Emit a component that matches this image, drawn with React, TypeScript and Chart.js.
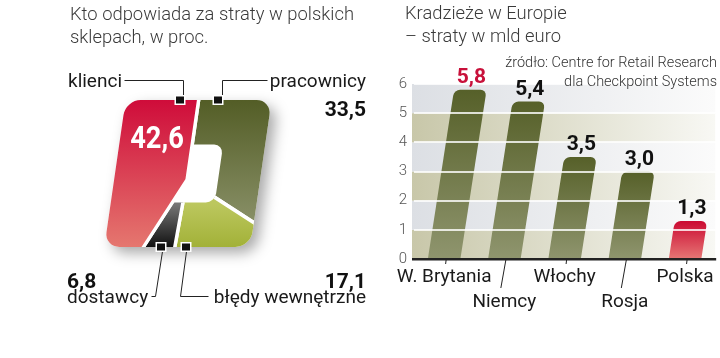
import React, { useEffect, useRef } from "react";
import { Chart, registerables } from "chart.js";

Chart.register(...registerables);

// ---------------- data ----------------
const shareLabels = ["pracownicy", "błędy wewnętrzne", "dostawcy", "klienci"];
const shareValues = [33.5, 17.1, 6.8, 42.6];

const countryLabels = ["W. Brytania", "Niemcy", "Włochy", "Rosja", "Polska"];
const lossValues = [5.8, 5.4, 3.5, 3.0, 1.3];
const yTickValues = [0, 1, 2, 3, 4, 5, 6];

const leftTitle = ["Kto odpowiada za straty w polskich", "sklepach, w proc."];
const rightTitle = ["Kradzieże w Europie", "– straty w mld euro"];
const sourceLines = ["źródło: Centre for Retail Research", "dla Checkpoint Systems"];

// ---------------- styles ----------------
const FONT = "Roboto, 'Noto Sans', sans-serif";
const fmt = (v: number) => v.toFixed(1).replace(".", ",");

const sliceGrad: Record<string, [string, string]> = {
  "pracownicy": ["#535d26", "#8b926a"],
  "błędy wewnętrzne": ["#bcc75e", "#a2b138"],
  "dostawcy": ["#777777", "#111111"],
  "klienci": ["#cf0c3a", "#e5776f"],
};
// gradient ranges relative to the shape centre
const sliceGradRange: Record<string, [number, number]> = {
  "pracownicy": [-73.5, 55],
  "błędy wewnętrzne": [30, 73.5],
  "dostawcy": [30, 73.5],
  "klienci": [-73.5, 73.5],
};

const PIE_SKEW = 0.145;
const SHAPE_DY = -6; // shape centre relative to pie centre
const OUTER = { hw: 73, hh: 73.5, r: 15 };
const HOLE = { l: -42, r: 31, t: -29, b: 29, rad: 9 };

// annotation layout for the left chart (page coords)
const leftAnno = [
  { name: { x: 366, y: 87, align: "right" }, value: { x: 366, y: 116, align: "right", color: "#111", size: 21, sx: 1 }, line: [[222, 97], [222, 80], [267, 80]], marker: [218, 100] },
  { name: { x: 366, y: 303, align: "right" }, value: { x: 366, y: 288, align: "right", color: "#111", size: 21, sx: 1 }, line: [[186, 251], [180, 296], [208, 296]], marker: [186, 247] },
  { name: { x: 67, y: 303, align: "left" }, value: { x: 67, y: 288, align: "left", color: "#111", size: 21, sx: 1 }, line: [[162, 251], [155, 296], [151, 296]], marker: [161, 247] },
  { name: { x: 68, y: 87, align: "left" }, value: { x: 157, y: 148, align: "center", color: "#fff", size: 31, sx: 0.88 }, line: [[124, 80], [183, 80], [183, 97]], marker: [180, 100] },
];

const BAR_SKEW = 0.155;

const ok = (...v: number[]) => v.every((n) => Number.isFinite(n));

function rrPath(x: number, y: number, w: number, h: number, r: number) {
  const p = new Path2D();
  p.moveTo(x + r, y);
  p.lineTo(x + w - r, y);
  p.arcTo(x + w, y, x + w, y + r, r);
  p.lineTo(x + w, y + h - r);
  p.arcTo(x + w, y + h, x + w - r, y + h, r);
  p.lineTo(x + r, y + h);
  p.arcTo(x, y + h, x, y + h - r, r);
  p.lineTo(x, y + r);
  p.arcTo(x, y, x + r, y, r);
  p.closePath();
  return p;
}

function drawText(ctx: CanvasRenderingContext2D, text: string, x: number, y: number, font: string, color: string, align: CanvasTextAlign, sx = 1) {
  ctx.save();
  ctx.font = font;
  ctx.fillStyle = color;
  ctx.textAlign = align;
  ctx.textBaseline = "alphabetic";
  ctx.translate(x, y);
  ctx.scale(sx, 1);
  ctx.fillText(text, 0, 0);
  ctx.restore();
}

const squarePiePlugin = {
  id: "squarePie",
  beforeDatasetDraw(chart: any, args: any) {
    const meta = args.meta;
    if (!meta.data.length) return;
    const ctx: CanvasRenderingContext2D = chart.ctx;
    const cx = meta.data[0].x;
    const cy = meta.data[0].y + SHAPE_DY;
    if (!ok(cx, cy)) return;
    const outer = rrPath(cx - OUTER.hw, cy - OUTER.hh, 2 * OUTER.hw, 2 * OUTER.hh, OUTER.r);
    const hole = rrPath(cx + HOLE.l, cy + HOLE.t, HOLE.r - HOLE.l, HOLE.b - HOLE.t, HOLE.rad);
    ctx.save();
    ctx.transform(1, 0, -PIE_SKEW, 1, PIE_SKEW * cy, 0);
    ctx.save();
    ctx.shadowColor = "rgba(0,0,0,0.34)";
    ctx.shadowBlur = 14;
    ctx.shadowOffsetX = 6;
    ctx.shadowOffsetY = 6;
    ctx.fillStyle = "#fff";
    ctx.fill(outer);
    ctx.restore();
    meta.data.forEach((el: any, i: number) => {
      ctx.save();
      const clip = new Path2D();
      clip.addPath(outer);
      if (shareLabels[i] !== "klienci") clip.addPath(hole);
      ctx.clip(clip, "evenodd");
      el.draw(ctx);
      ctx.restore();
    });
    ctx.restore();
    return false;
  },
  afterDraw(chart: any) {
    const ctx: CanvasRenderingContext2D = chart.ctx;
    shareLabels.forEach((label, i) => {
      const a: any = leftAnno[i];
      ctx.save();
      ctx.strokeStyle = "#222";
      ctx.lineWidth = 1;
      ctx.beginPath();
      a.line.forEach((p: number[], k: number) => {
        if (k === 0) ctx.moveTo(p[0] + 0.5, p[1] + 0.5);
        else ctx.lineTo(p[0] + 0.5, p[1] + 0.5);
      });
      ctx.stroke();
      const [mx, my] = a.marker;
      ctx.fillStyle = "#fff";
      ctx.fillRect(mx - 5.5, my - 5, 11, 10);
      ctx.fillStyle = "#111";
      ctx.fillRect(mx - 4, my - 3.5, 8, 7);
      ctx.restore();
      drawText(ctx, label, a.name.x, a.name.y, `400 19px ${FONT}`, "#1a1a1a", a.name.align);
      drawText(ctx, fmt(shareValues[i]), a.value.x, a.value.y, `700 ${a.value.size}px ${FONT}`, a.value.color, a.value.align, a.value.sx);
    });
  },
};

const barDecorPlugin = {
  id: "barDecor",
  beforeDraw(chart: any) {
    const { ctx, chartArea: a, scales } = chart;
    const y = scales.y;
    for (let k = 0; k < yTickValues.length - 1; k++) {
      const yTop = y.getPixelForValue(yTickValues[k + 1]);
      const yBot = y.getPixelForValue(yTickValues[k]);
      if (!ok(yTop, yBot, a.left, a.right)) continue;
      const g = ctx.createLinearGradient(a.left - 2, 0, a.right, 0);
      if (k % 2 === 0) {
        g.addColorStop(0, "#c8c7a9");
        g.addColorStop(1, "#f8f8f4");
      } else {
        g.addColorStop(0, "#dcdfe4");
        g.addColorStop(1, "#fbfbfb");
      }
      ctx.fillStyle = g;
      ctx.fillRect(a.left - 2, yTop, a.right - a.left + 2, yBot - yTop);
    }
  },
  beforeDatasetsDraw(chart: any) {
    const ctx = chart.ctx;
    const base = chart.scales.y.getPixelForValue(0);
    ctx.save();
    ctx.transform(1, 0, -BAR_SKEW, 1, BAR_SKEW * base, 0);
  },
  afterDatasetsDraw(chart: any) {
    chart.ctx.restore();
  },
  afterDraw(chart: any) {
    const ctx: CanvasRenderingContext2D = chart.ctx;
    const a = chart.chartArea;
    const base = chart.scales.y.getPixelForValue(0);
    ctx.fillStyle = "#222";
    ctx.fillRect(a.left - 2, base - 1, a.right - a.left + 3, 2.5);
    const xs = chart.scales.x;
    ctx.save();
    ctx.strokeStyle = "#222";
    ctx.lineWidth = 1;
    countryLabels.forEach((_, i) => {
      const x = xs.getPixelForTick(i);
      ctx.beginPath();
      if (i % 2) {
        ctx.moveTo(x + 1.5, base + 1);
        ctx.lineTo(x - 3.5, base + 29);
      } else {
        ctx.moveTo(x + 2, base + 1);
        ctx.lineTo(x + 1.5, base + 5);
      }
      ctx.stroke();
    });
    ctx.restore();
    const meta = chart.getDatasetMeta(0);
    const maxV = Math.max(...lossValues);
    meta.data.forEach((bar: any, i: number) => {
      const x = bar.x + BAR_SKEW * (base - bar.y) + 1;
      drawText(ctx, fmt(lossValues[i]), x, bar.y - 7, `700 21px ${FONT}`, lossValues[i] === maxV ? "#c8103a" : "#111", "center");
    });
  },
};

function pieConfig(): any {
  return {
    type: "pie",
    data: {
      labels: shareLabels,
      datasets: [
        {
          data: shareValues,
          backgroundColor: (c: any) => {
            const chart = c.chart;
            const label = shareLabels[c.dataIndex];
            const area = chart.chartArea;
            if (!area || !label || !ok(area.top, area.bottom)) return sliceGrad[label] ? sliceGrad[label][0] : "#888";
            const cy = (area.top + area.bottom) / 2 + SHAPE_DY;
            const [t, b] = sliceGradRange[label];
            const g = chart.ctx.createLinearGradient(0, cy + t, 0, cy + b);
            g.addColorStop(0, sliceGrad[label][0]);
            g.addColorStop(1, sliceGrad[label][1]);
            return g;
          },
          borderColor: "#ffffff",
          borderWidth: 3.5,
        },
      ],
    },
    options: {
      responsive: false,
      animation: false,
      events: [],
      layout: { padding: { left: 75, right: 69, top: 66, bottom: 65 } },
      plugins: { legend: { display: false }, tooltip: { enabled: false } },
    },
    plugins: [squarePiePlugin],
  };
}

function barConfig(): any {
  return {
    type: "bar",
    data: {
      labels: countryLabels,
      datasets: [
        {
          data: lossValues,
          backgroundColor: (c: any) => {
            const chart = c.chart;
            const ys = chart.scales && chart.scales.y;
            const i = c.dataIndex;
            const fallback = countryLabels[i] === "Polska" ? "#cb0a32" : "#5a6230";
            if (!ys || i === undefined) return fallback;
            const top = ys.getPixelForValue(lossValues[i]);
            const bot = ys.getPixelForValue(0);
            if (!ok(top, bot) || top === bot) return fallback;
            const g = chart.ctx.createLinearGradient(0, top, 0, bot);
            if (countryLabels[i] === "Polska") {
              g.addColorStop(0, "#cb0a32");
              g.addColorStop(1, "#e67775");
            } else {
              g.addColorStop(0, "#566029");
              g.addColorStop(1, "#8f956e");
            }
            return g;
          },
          borderRadius: { topLeft: 6, topRight: 6, bottomLeft: 0, bottomRight: 0 },
          borderSkipped: "bottom",
          barPercentage: 0.54,
          categoryPercentage: 1,
        },
      ],
    },
    options: {
      responsive: false,
      animation: false,
      events: [],
      layout: { padding: { left: 0, right: 4, top: 84, bottom: 0 } },
      plugins: { legend: { display: false }, tooltip: { enabled: false } },
      scales: {
        x: {
          grid: { display: false, drawTicks: false },
          border: { display: false },
          ticks: {
            autoSkip: false,
            maxRotation: 0,
            padding: 6,
            color: "#1a1a1a",
            font: { family: FONT, size: 19, lineHeight: 1.32 },
            callback: (_v: any, i: number) => (i % 2 ? ["", countryLabels[i]] : countryLabels[i]),
          },
          afterFit: (s: any) => {
            s.height = 99;
          },
        },
        y: {
          min: yTickValues[0],
          max: yTickValues[yTickValues.length - 1],
          grid: { z: 1, color: "rgba(255,255,255,0.8)", lineWidth: 2, drawTicks: false },
          border: { display: false },
          ticks: {
            stepSize: 1,
            padding: 7,
            color: "#555",
            font: { family: FONT, size: 15, weight: "300" },
          },
          afterFit: (s: any) => {
            s.width = 44;
          },
        },
      },
    },
    plugins: [barDecorPlugin],
  };
}

export default function App() {
  const leftRef = useRef<HTMLCanvasElement>(null);
  const rightRef = useRef<HTMLCanvasElement>(null);
  useEffect(() => {
    const c1 = new Chart(leftRef.current as HTMLCanvasElement, pieConfig());
    const c2 = new Chart(rightRef.current as HTMLCanvasElement, barConfig());
    return () => {
      c1.destroy();
      c2.destroy();
    };
  }, []);

  const titleStyle: React.CSSProperties = {
    position: "absolute",
    fontFamily: FONT,
    fontWeight: 300,
    fontSize: 18.4,
    lineHeight: "23px",
    color: "#3a3a3a",
    whiteSpace: "pre",
  };

  return (
    <div style={{ position: "fixed", left: 0, top: 0, width: 720, height: 358, background: "#fff", overflow: "hidden" }}>
      <canvas ref={leftRef} width={370} height={358} style={{ position: "absolute", left: 0, top: 0, width: 370, height: 358 }} />
      <canvas ref={rightRef} width={350} height={358} style={{ position: "absolute", left: 370, top: 0, width: 350, height: 358 }} />
      <div style={{ ...titleStyle, left: 70, top: 1.7 }}>
        {leftTitle.map((t) => (
          <div key={t}>{t}</div>
        ))}
      </div>
      <div style={{ ...titleStyle, left: 405, top: 0.5 }}>
        {rightTitle.map((t) => (
          <div key={t}>{t}</div>
        ))}
      </div>
      <div
        style={{
          position: "absolute",
          right: 3,
          top: 52.5,
          fontFamily: FONT,
          fontWeight: 300,
          fontSize: 14.5,
          lineHeight: "19px",
          color: "#333",
          textAlign: "right",
          whiteSpace: "pre",
        }}
      >
        {sourceLines.map((t) => (
          <div key={t}>{t}</div>
        ))}
      </div>
    </div>
  );
}
